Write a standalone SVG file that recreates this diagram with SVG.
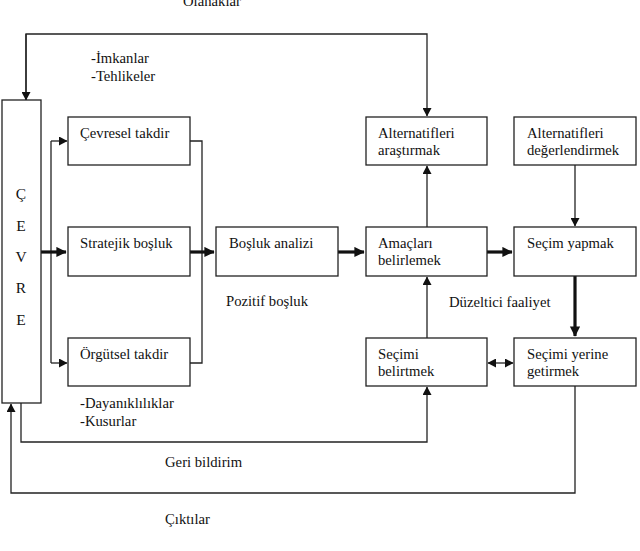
<svg xmlns="http://www.w3.org/2000/svg" width="640" height="551" viewBox="0 0 640 551">
<style>
.t{font-size:14.7px;fill:#111}
.box{fill:#fff;stroke:#222;stroke-width:1.3}
.ln{fill:none;stroke:#222;stroke-width:1.3}
.th{fill:none;stroke:#111;stroke-width:3.2}
.ce{text-anchor:middle;font-size:15.5px}
</style>
<defs>
<marker id="a" markerWidth="9" markerHeight="9" refX="8" refY="4.5" orient="auto" markerUnits="userSpaceOnUse"><path d="M0,0L8.5,4.5L0,9z" fill="#111"/></marker>
<marker id="as" markerWidth="9" markerHeight="9" refX="8" refY="4.5" orient="auto-start-reverse" markerUnits="userSpaceOnUse"><path d="M0,0L8.5,4.5L0,9z" fill="#111"/></marker>
<marker id="at" markerWidth="10" markerHeight="10" refX="3" refY="1.6" orient="auto" markerUnits="strokeWidth"><path d="M0,0L3.2,1.6L0,3.2z" fill="#111"/></marker>
</defs>
<g id="connectors">
<path class="ln" d="M26,100V34H427V116" marker-end="url(#a)"/>
<path class="ln" d="M26,34V100" marker-end="url(#a)"/>
<path class="ln" d="M51,141V363"/>
<path class="ln" d="M51,141H67" marker-end="url(#a)"/>
<path class="ln" d="M51,363H67" marker-end="url(#a)"/>
<path class="th" d="M41,252H66" marker-end="url(#at)"/>
<path class="ln" d="M190,141H202V363H190"/>
<path class="th" d="M190,252H214" marker-end="url(#at)"/>
<path class="th" d="M338,252H364" marker-end="url(#at)"/>
<path class="th" d="M487,252H512" marker-end="url(#at)"/>
<path class="ln" d="M427,227V166" marker-end="url(#a)"/>
<path class="ln" d="M575,165V226" marker-end="url(#a)"/>
<path class="th" d="M575,276V336" marker-end="url(#at)"/>
<path class="ln" d="M427,338V277" marker-end="url(#a)"/>
<path class="ln" d="M488,363H513" marker-start="url(#as)" marker-end="url(#as)"/>
<path class="ln" d="M21,403V442H427V387" marker-end="url(#a)"/>
<path class="ln" d="M575,386V493H11V404" marker-end="url(#a)"/>
</g>
<g font-family="'Liberation Serif', 'DejaVu Serif', serif" class="t">
<g id="cevre">
<rect class="box" x="2" y="100" width="39" height="303"/>
<text class="ce" x="21" y="199">Ç</text>
<text class="ce" x="21" y="231">E</text>
<text class="ce" x="21" y="262">V</text>
<text class="ce" x="21" y="293">R</text>
<text class="ce" x="21" y="325">E</text>
</g>
<g id="cevresel-takdir"><rect class="box" x="68" y="117" width="122" height="48"/><text x="80" y="138">Çevresel takdir</text></g>
<g id="stratejik-bosluk"><rect class="box" x="68" y="227" width="122" height="49"/><text x="80" y="248">Stratejik boşluk</text></g>
<g id="orgutsel-takdir"><rect class="box" x="68" y="338" width="122" height="48"/><text x="80" y="359">Örgütsel takdir</text></g>
<g id="bosluk-analizi"><rect class="box" x="216" y="227" width="122" height="49"/><text x="229" y="248">Boşluk analizi</text></g>
<g id="amaclari-belirlemek"><rect class="box" x="366" y="227" width="121" height="49"/><text x="378" y="248">Amaçları</text><text x="378" y="265">belirlemek</text></g>
<g id="alternatifleri-arastirmak"><rect class="box" x="366" y="117" width="121" height="48"/><text x="378" y="138">Alternatifleri</text><text x="378" y="155">araştırmak</text></g>
<g id="alternatifleri-degerlendirmek"><rect class="box" x="514" y="117" width="122" height="48"/><text x="527" y="138">Alternatifleri</text><text x="527" y="155">değerlendirmek</text></g>
<g id="secim-yapmak"><rect class="box" x="514" y="227" width="122" height="49"/><text x="527" y="248">Seçim yapmak</text></g>
<g id="secimi-belirtmek"><rect class="box" x="366" y="338" width="121" height="48"/><text x="378" y="359">Seçimi</text><text x="378" y="376">belirtmek</text></g>
<g id="secimi-yerine-getirmek"><rect class="box" x="514" y="338" width="122" height="48"/><text x="527" y="359">Seçimi yerine</text><text x="527" y="376">getirmek</text></g>
<g id="labels">
<text x="183" y="6">Olanaklar</text>
<text x="91" y="63">-İmkanlar</text>
<text x="91" y="81">-Tehlikeler</text>
<text x="226" y="306">Pozitif boşluk</text>
<text x="449" y="307">Düzeltici faaliyet</text>
<text x="80" y="408">-Dayanıklılıklar</text>
<text x="80" y="426">-Kusurlar</text>
<text x="165" y="467">Geri bildirim</text>
<text x="165" y="524">Çıktılar</text>
</g>
</g>
</svg>
